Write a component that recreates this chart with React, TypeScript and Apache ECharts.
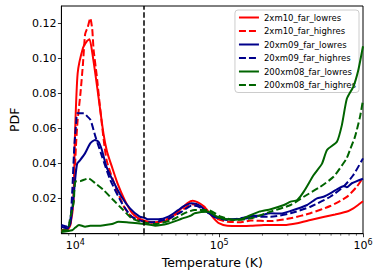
import React, { useEffect, useRef } from 'react';
import * as echarts from 'echarts';

const FONT = '"DejaVu Sans", sans-serif';
const X_MIN = 8000;
const X_MAX = 1000000;
const Y_MIN = 0;
const Y_MAX = 0.13;
const Y_STEP = 0.02;
const VLINE_T = 30000;
const MINOR_TICKS = [9000, 20000, 30000, 40000, 50000, 60000, 70000, 80000, 90000, 200000, 300000, 400000, 500000, 600000, 700000, 800000, 900000];

const SERIES_NAMES = ['2xm10_far_lowres', '2xm10_far_highres', '20xm09_far_lowres', '20xm09_far_highres', '200xm08_far_lowres', '200xm08_far_highres'];
const COLORS = ['#ff0000', '#ff0000', '#00008b', '#00008b', '#006400', '#006400'];
const DASHED = [false, true, false, true, false, true];

const RED_LOW: [number, number][] = [
  [8000, 0.0015], [8800, 0.002], [9240, 0.005], [9700, 0.019], [9950, 0.057], [10380, 0.0916], [11300, 0.106], [12040, 0.110], [12550, 0.111],
  [13300, 0.100], [13900, 0.089], [14600, 0.076], [15700, 0.057], [16600, 0.047], [18000, 0.038], [19800, 0.028], [22100, 0.019], [24700, 0.012],
  [27200, 0.009], [29900, 0.0075], [34000, 0.0065], [39800, 0.007], [44300, 0.008], [49000, 0.011], [54700, 0.0145], [60300, 0.0175], [65400, 0.0188],
  [70600, 0.018], [78600, 0.0155], [85300, 0.012], [92400, 0.0085], [99500, 0.006], [114000, 0.0045], [142000, 0.0044], [166000, 0.0045],
  [205000, 0.005], [282000, 0.005], [349000, 0.006], [431000, 0.0078], [530000, 0.0095], [640000, 0.011], [765000, 0.0125], [857000, 0.0145],
  [928000, 0.0165], [1000000, 0.0185],
];

const RED_HIGH: [number, number][] = [
  [8000, 0.002], [8800, 0.003], [9240, 0.006], [9700, 0.02], [10100, 0.05], [10380, 0.065], [10850, 0.080], [11300, 0.097], [11700, 0.114],
  [12200, 0.118], [12700, 0.123], [13100, 0.117], [13400, 0.105], [14100, 0.090], [14900, 0.071], [16500, 0.042], [19400, 0.025], [22100, 0.0145],
  [24600, 0.0097], [28800, 0.0075], [34000, 0.0063], [39800, 0.007], [49000, 0.0105], [57600, 0.0145], [64100, 0.0168], [70000, 0.0163],
  [79000, 0.0145], [85700, 0.0118], [97000, 0.0085], [114800, 0.0068], [141800, 0.0066], [166000, 0.0075], [228000, 0.0072], [314000, 0.0088],
  [431000, 0.0117], [592000, 0.0158], [772000, 0.021], [905000, 0.0268], [1000000, 0.032],
];

const BLUE_LOW: [number, number][] = [
  [8000, 0.004], [8800, 0.003], [9240, 0.006], [9700, 0.02], [10000, 0.032], [10300, 0.040], [10800, 0.042], [11700, 0.046], [12700, 0.0516],
  [13700, 0.0535], [14500, 0.0525], [15300, 0.0478], [16500, 0.038], [18400, 0.0297], [21000, 0.021], [24000, 0.0145], [28000, 0.0097],
  [30500, 0.009], [32000, 0.0082], [37800, 0.0082], [44300, 0.0097], [51900, 0.0135], [57600, 0.016], [64100, 0.0174], [69400, 0.017],
  [75000, 0.0155], [79000, 0.0135], [92800, 0.0097], [114800, 0.0082], [157700, 0.0088], [166000, 0.0100], [189700, 0.0103], [228000, 0.0117],
  [268000, 0.0115], [314000, 0.013], [409000, 0.0164], [479000, 0.0202], [532000, 0.0211], [620000, 0.024], [658800, 0.0253], [713000, 0.0268],
  [740000, 0.0272], [772000, 0.0265], [836000, 0.0288], [1000000, 0.0314],
];

const BLUE_HIGH: [number, number][] = [
  [8000, 0.005], [8800, 0.004], [9240, 0.008], [9530, 0.025], [9840, 0.05], [10150, 0.064], [10320, 0.0687], [11480, 0.0687], [12100, 0.067],
  [12750, 0.065], [13800, 0.0554], [15350, 0.044], [17500, 0.0307], [21100, 0.0174], [24700, 0.0097], [29900, 0.0069], [34000, 0.0065],
  [44300, 0.0085], [54700, 0.0125], [64100, 0.016], [70000, 0.0158], [79000, 0.0135], [92800, 0.0095], [114800, 0.0078], [166000, 0.0097],
  [228000, 0.0097], [314000, 0.0117], [431000, 0.0154], [592000, 0.0211], [731000, 0.0268], [857000, 0.0335], [1000000, 0.043],
];

const GREEN_LOW: [number, number][] = [
  [8000, 0.001], [9500, 0.002], [10000, 0.0035], [10600, 0.005], [11700, 0.004], [12700, 0.0045], [14500, 0.0045], [16200, 0.005], [18000, 0.0055],
  [20000, 0.0068], [22800, 0.0066], [24700, 0.0063], [29900, 0.0055], [34000, 0.005], [35800, 0.0046], [44300, 0.0058], [54700, 0.0085],
  [64100, 0.0105], [67500, 0.0117], [83600, 0.0125], [98000, 0.0095], [121000, 0.008], [141800, 0.0082], [157700, 0.0098], [189700, 0.0126],
  [228000, 0.014], [282000, 0.0164], [314000, 0.0183], [349000, 0.0192], [387500, 0.024], [454000, 0.0335], [519000, 0.040], [562000, 0.0478],
  [658800, 0.0525], [713000, 0.062], [772000, 0.077], [857000, 0.084], [928000, 0.0935], [1000000, 0.107],
];

const GREEN_HIGH: [number, number][] = [
  [8000, 0.002], [8800, 0.002], [9240, 0.0097], [9730, 0.0174], [10000, 0.0297], [10830, 0.030], [12350, 0.0316], [13740, 0.0288], [15680, 0.025],
  [18370, 0.0192], [21530, 0.0135], [24600, 0.0088], [28080, 0.0069], [32000, 0.006], [35800, 0.0055], [46700, 0.0078], [57600, 0.0117],
  [67500, 0.0135], [83600, 0.0135], [103000, 0.0097], [127500, 0.0078], [166000, 0.0088], [228000, 0.0126], [314000, 0.0164], [387500, 0.0211],
  [505000, 0.0268], [624000, 0.0325], [731000, 0.0402], [770000, 0.043], [813000, 0.048], [880000, 0.0554], [953000, 0.0667], [1000000, 0.0763],
];

const SERIES_DATA = [RED_LOW, RED_HIGH, BLUE_LOW, BLUE_HIGH, GREEN_LOW, GREEN_HIGH];

const isPow10 = (v: number) => {
  const l = Math.log10(v);
  return Math.abs(l - Math.round(l)) < 1e-6;
};

export default function App() {
  const ref = useRef<HTMLDivElement>(null);
  useEffect(() => {
    if (!ref.current) return;
    const chart = echarts.init(ref.current, undefined, { renderer: 'svg' });
    const lineSeries: any[] = SERIES_DATA.map((d, i) => ({
      name: SERIES_NAMES[i],
      type: 'line',
      data: d,
      symbol: 'none',
      smooth: 0.2,
      color: COLORS[i],
      lineStyle: { color: COLORS[i], width: 2, type: DASHED[i] ? [7, 3] : 'solid' },
      z: 3 + i,
    }));
    lineSeries[0].markLine = {
      silent: true,
      symbol: ['none', 'none'],
      label: { show: false },
      lineStyle: { color: '#000', width: 1.5, type: [5.5, 2.5] },
      data: [{ xAxis: VLINE_T }],
      z: 20,
    };
    const option: any = {
      animation: false,
      backgroundColor: '#fff',
      textStyle: { fontFamily: FONT },
      grid: { left: 59, top: 6, width: 304, height: 227.7, show: true, borderColor: '#000', borderWidth: 1, backgroundColor: 'transparent' },
      legend: {
        data: SERIES_NAMES,
        orient: 'vertical',
        right: 23,
        top: 10,
        padding: [3, 3, 3, 3],
        itemWidth: 20,
        itemHeight: 8.5,
        itemGap: 4.5,
        itemStyle: { opacity: 0, borderWidth: 0 },
        lineStyle: { width: 2, opacity: 1 },
        backgroundColor: 'rgba(255,255,255,0.8)',
        borderColor: '#cccccc',
        borderWidth: 1,
        borderRadius: 3,
        textStyle: { fontFamily: FONT, fontSize: 8.5, color: '#000' },
      },
      xAxis: {
        type: 'log',
        logBase: 10,
        min: X_MIN,
        max: X_MAX,
        name: 'Temperature (K)',
        nameLocation: 'middle',
        nameGap: 22,
        nameTextStyle: { fontFamily: FONT, fontSize: 12.5, color: '#000' },
        axisLine: { show: true, lineStyle: { color: '#000', width: 1 } },
        axisTick: { show: true, length: 3.5, lineStyle: { color: '#000', width: 0.8 } },
        splitLine: { show: false },
        axisLabel: {
          margin: 5,
          showMinLabel: false,
          formatter: (v: number) => (isPow10(v) ? `{b|10}{s|${Math.round(Math.log10(v))}}` : ''),
          rich: {
            b: { fontFamily: FONT, fontSize: 11, color: '#000', lineHeight: 14 },
            s: { fontFamily: FONT, fontSize: 8, color: '#000', lineHeight: 8, verticalAlign: 'top' },
          },
        },
      },
      yAxis: {
        type: 'value',
        min: Y_MIN,
        max: Y_MAX,
        interval: Y_STEP,
        name: 'PDF',
        nameLocation: 'middle',
        nameGap: 40,
        nameTextStyle: { fontFamily: FONT, fontSize: 12.5, color: '#000' },
        axisLine: { show: true, lineStyle: { color: '#000', width: 1 } },
        axisTick: { show: true, length: 3.5, lineStyle: { color: '#000', width: 0.8 } },
        splitLine: { show: false },
        axisLabel: {
          margin: 5,
          showMinLabel: false,
          showMaxLabel: false,
          fontFamily: FONT,
          fontSize: 11,
          color: '#000',
          formatter: (v: number) => v.toFixed(2),
        },
      },
      series: [
        ...lineSeries,
        {
          type: 'custom',
          name: 'minorTicks',
          silent: true,
          clip: false,
          z: 30,
          data: MINOR_TICKS.map((t) => [t, Y_MIN]),
          renderItem: (_p: any, api: any) => {
            const p = api.coord([api.value(0), Y_MIN]);
            return {
              type: 'line',
              shape: { x1: p[0], y1: p[1], x2: p[0], y2: p[1] + 2 },
              style: { stroke: '#000', lineWidth: 0.6 },
            };
          },
        },
      ],
    };
    chart.setOption(option);
    return () => chart.dispose();
  }, []);
  return <div ref={ref} style={{ width: 382, height: 276, position: 'absolute', left: 0, top: 0 }} />;
}
